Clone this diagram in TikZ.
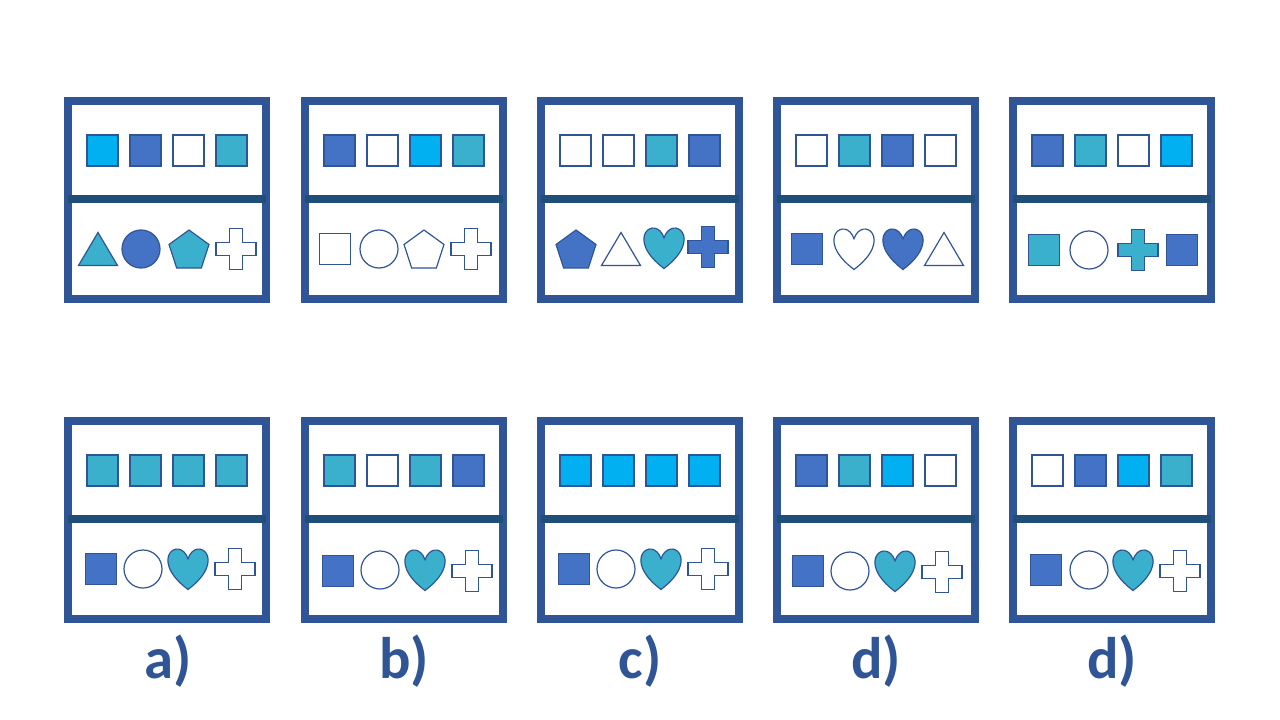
\documentclass[tikz,border=0pt]{standalone}
\usepackage{fontspec}
\setmainfont{Carlito}
\usepackage{tikz}
\definecolor{rand}{HTML}{2F5597}
\definecolor{trennf}{HTML}{1F4E79}
\definecolor{hell}{HTML}{00B0F0}
\definecolor{blau}{HTML}{4472C4}
\definecolor{tuerkis}{HTML}{3AB0CC}
\tikzset{
  rahmen/.style={draw=rand,line width=6pt},
  trenn/.style={trennf,line width=6pt},
  form/.style={draw=rand,line width=0.9pt,line join=miter},
  marke/.style={rand,font=\fontsize{44}{50}\selectfont\bfseries,anchor=base},
  quad/.pic={\path[form,pic actions] (-15.5,-15.5) rectangle (15.5,15.5);},
  kreis/.pic={\path[form,pic actions] (0,0) circle[radius=14.25pt];},
  drei/.pic={\path[form,pic actions] (-19.5,16.5) -- (0,-16.5) -- (19.5,16.5) -- cycle;},
  fuenf/.pic={\path[form,pic actions] (0,-19) -- (19.97,-4.49) -- (12.34,18.99)
    -- (-12.34,18.99) -- (-19.97,-4.49) -- cycle;},
  kreuz/.pic={\path[form,pic actions] (-6.5,-20.5) -- (6.5,-20.5) -- (6.5,-6.5) -- (20,-6.5)
    -- (20,6.5) -- (6.5,6.5) -- (6.5,20.5) -- (-6.5,20.5) -- (-6.5,6.5) -- (-20,6.5)
    -- (-20,-6.5) -- (-6.5,-6.5) -- cycle;},
  herz/.pic={\path[form,pic actions] (0,-10.25) .. controls (8.33,-34.17) and (40.83,-10.25) .. (0,20.5)
    .. controls (-40.83,-10.25) and (-8.33,-34.17) .. (0,-10.25) -- cycle;},
}
% Tafel: x0, y0, dann die vier Quadratfarben
\newcommand{\tafel}[6]{%
  \draw[rahmen] (#1+4,#2+4) rectangle (#1+202,#2+202);
  \draw[trenn] (#1+4,#2+102) -- (#1+202,#2+102);
  \pic[fill=#3] at (#1+38.5,#2+53.5) {quad};
  \pic[fill=#4] at (#1+81.5,#2+53.5) {quad};
  \pic[fill=#5] at (#1+124.5,#2+53.5) {quad};
  \pic[fill=#6] at (#1+167.5,#2+53.5) {quad};}

\begin{document}
\begin{tikzpicture}[x=0.75pt,y=-0.75pt]
  \useasboundingbox[fill=white] (0,0) rectangle (1280,720);

  % obere Reihe
  \tafel{64}{97}{hell}{blau}{white}{tuerkis}
  \pic[fill=tuerkis] at (98,249) {drei};
  \pic[fill=blau] at (141,249) {kreis};
  \pic[fill=tuerkis] at (189,249) {fuenf};
  \pic[fill=white] at (236,249) {kreuz};

  \tafel{301}{97}{blau}{white}{hell}{tuerkis}
  \pic[fill=white] at (335,249) {quad};
  \pic[fill=white] at (379,249) {kreis};
  \pic[fill=white] at (424,249) {fuenf};
  \pic[fill=white] at (471,249) {kreuz};

  \tafel{537}{97}{white}{white}{tuerkis}{blau}
  \pic[fill=blau] at (576,249) {fuenf};
  \pic[fill=white] at (621,249) {drei};
  \pic[fill=tuerkis] at (664,248) {herz};
  \pic[fill=blau] at (708,247) {kreuz};

  \tafel{773}{97}{white}{tuerkis}{blau}{white}
  \pic[fill=blau] at (807,249) {quad};
  \pic[fill=white] at (854,249) {herz};
  \pic[fill=blau] at (903,249) {herz};
  \pic[fill=white] at (944,249) {drei};

  \tafel{1009}{97}{blau}{tuerkis}{white}{hell}
  \pic[fill=tuerkis] at (1044,250) {quad};
  \pic[fill=white] at (1089,250) {kreis};
  \pic[fill=tuerkis] at (1138,250) {kreuz};
  \pic[fill=blau] at (1182,250) {quad};

  % untere Reihe
  \tafel{64}{417}{tuerkis}{tuerkis}{tuerkis}{tuerkis}
  \pic[fill=blau] at (101,569) {quad};
  \pic[fill=white] at (143,569) {kreis};
  \pic[fill=tuerkis] at (188,569) {herz};
  \pic[fill=white] at (235,569) {kreuz};

  \tafel{301}{417}{tuerkis}{white}{tuerkis}{blau}
  \pic[fill=blau] at (338,571) {quad};
  \pic[fill=white] at (380,570) {kreis};
  \pic[fill=tuerkis] at (425,570) {herz};
  \pic[fill=white] at (472,571) {kreuz};

  \tafel{537}{417}{hell}{hell}{hell}{hell}
  \pic[fill=blau] at (574,569) {quad};
  \pic[fill=white] at (616,569) {kreis};
  \pic[fill=tuerkis] at (661,569) {herz};
  \pic[fill=white] at (708,569) {kreuz};

  \tafel{773}{417}{blau}{tuerkis}{hell}{white}
  \pic[fill=blau] at (808,571) {quad};
  \pic[fill=white] at (850,571) {kreis};
  \pic[fill=tuerkis] at (895,571) {herz};
  \pic[fill=white] at (942,572) {kreuz};

  \tafel{1009}{417}{white}{blau}{hell}{tuerkis}
  \pic[fill=blau] at (1046,570) {quad};
  \pic[fill=white] at (1089,570) {kreis};
  \pic[fill=tuerkis] at (1133,570) {herz};
  \pic[fill=white] at (1180,571) {kreuz};

  % Beschriftung
  \node[marke] (la) at (168,678) {a)};
  \node[marke] (lb) at (404,678) {b)};
  \node[marke] (lc) at (640,678) {c)};
  \node[marke] (ld) at (876,678) {d)};
  \node[marke] (le) at (1112,678) {d)};
\end{tikzpicture}
\end{document}
